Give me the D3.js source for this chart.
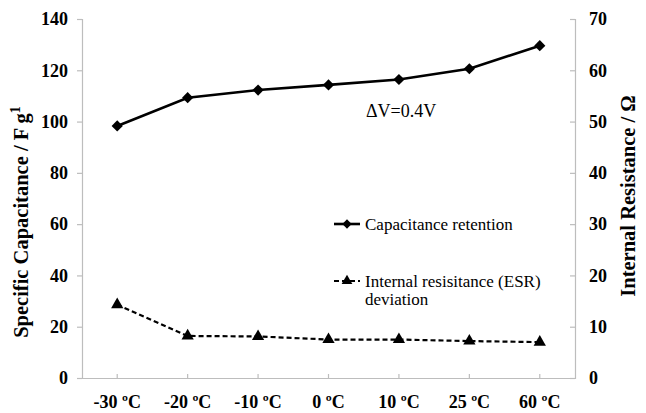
<!DOCTYPE html>
<html>
<head>
<meta charset="utf-8">
<script src="https://cdn.jsdelivr.net/npm/d3@7"></script>
<style>
  html, body { margin: 0; padding: 0; background: #fff; }
  svg { display: block; }
</style>
</head>
<body>
<svg id="chart" width="646" height="413"></svg>
<script>
// Temperatures on the x axis
const categories = ["-30 ºC", "-20 ºC", "-10 ºC", "0 ºC", "10 ºC", "25 ºC", "60 ºC"];
// Specific capacitance (F g-1), left axis
const capacitance = [98.3, 109.3, 112.3, 114.3, 116.4, 120.6, 129.6];
// Internal resistance (Ω), right axis
const esr = [14.3, 8.2, 8.1, 7.5, 7.5, 7.2, 7.0];
const leftTicks = [0, 20, 40, 60, 80, 100, 120, 140];
const rightTicks = [0, 10, 20, 30, 40, 50, 60, 70];

const FONT = "'Liberation Serif', 'Times New Roman', serif";
const svg = d3.select("#chart");
const m = { left: 82, right: 575, top: 19, bottom: 378 };
const axisColor = "#bdbdbd";

const x = d3.scaleBand().domain(categories).range([m.left, m.right]);
const xc = d => x(d) + x.bandwidth() / 2;
const yL = d3.scaleLinear().domain([0, 140]).range([m.bottom, m.top]);
const yR = d3.scaleLinear().domain([0, 70]).range([m.bottom, m.top]);

// Left axis
const gL = svg.append("g").attr("transform", `translate(${m.left},0)`)
  .call(d3.axisLeft(yL).tickValues(leftTicks).tickSize(5).tickPadding(9));
// Right axis (ticks point inward)
const gR = svg.append("g").attr("transform", `translate(${m.right},0)`)
  .call(d3.axisRight(yR).tickValues(rightTicks).tickSize(-5).tickPadding(14));
// Bottom axis (ticks point inward)
const gB = svg.append("g").attr("transform", `translate(0,${m.bottom})`)
  .call(d3.axisBottom(x).tickSize(-4).tickPadding(12).tickSizeOuter(0));

[gL, gR, gB].forEach(g => {
  g.select(".domain").attr("stroke", axisColor).attr("stroke-width", 1.2);
  g.selectAll(".tick line").attr("stroke", axisColor).attr("stroke-width", 1.2);
  g.selectAll(".tick text")
    .style("font-family", FONT).style("font-weight", "bold")
    .style("font-size", "18px").attr("fill", "#000");
});
gB.selectAll(".tick text").attr("dy", "1.0em");

// Axis titles
svg.append("text")
  .attr("transform", `translate(28,222) rotate(-90)`)
  .attr("text-anchor", "middle")
  .style("font-family", FONT).style("font-weight", "bold").style("font-size", "20.5px")
  .text("Specific Capacitance / F g")
  .append("tspan").attr("dy", -8).style("font-size", "14px").text("1");

svg.append("text")
  .attr("transform", `translate(635,196) rotate(-90)`)
  .attr("text-anchor", "middle")
  .style("font-family", FONT).style("font-weight", "bold").style("font-size", "20.5px")
  .text("Internal Resistance / Ω");

// Capacitance line
svg.append("path").datum(capacitance)
  .attr("fill", "none").attr("stroke", "#000").attr("stroke-width", 2.6)
  .attr("d", d3.line().x((d, i) => xc(categories[i])).y(d => yL(d)));
svg.selectAll(".dia").data(capacitance).join("path")
  .attr("transform", (d, i) => `translate(${xc(categories[i])},${yL(d)})`)
  .attr("d", d3.symbol(d3.symbolDiamond2, 80)).attr("fill", "#000");

// ESR line
svg.append("path").datum(esr)
  .attr("fill", "none").attr("stroke", "#000").attr("stroke-width", 2.2)
  .attr("stroke-dasharray", "5,3")
  .attr("d", d3.line().x((d, i) => xc(categories[i])).y(d => yR(d)));
svg.selectAll(".tri").data(esr).join("path")
  .attr("transform", (d, i) => `translate(${xc(categories[i])},${yR(d)})`)
  .attr("d", d3.symbol(d3.symbolTriangle, 65)).attr("fill", "#000");

// Annotation
svg.append("text").attr("x", 366).attr("y", 117)
  .style("font-family", FONT).style("font-size", "18px").text("ΔV=0.4V");

// Legend
const lg = svg.append("g").style("font-family", FONT).style("font-size", "17px");
lg.append("line").attr("x1", 334).attr("x2", 360).attr("y1", 224).attr("y2", 224)
  .attr("stroke", "#000").attr("stroke-width", 2.6);
lg.append("path").attr("transform", "translate(347,224)")
  .attr("d", d3.symbol(d3.symbolDiamond2, 55)).attr("fill", "#000");
lg.append("text").attr("x", 365).attr("y", 230).text("Capacitance retention");

lg.append("line").attr("x1", 334).attr("x2", 360).attr("y1", 281).attr("y2", 281)
  .attr("stroke", "#000").attr("stroke-width", 2.2).attr("stroke-dasharray", "5,3");
lg.append("path").attr("transform", "translate(347,281)")
  .attr("d", d3.symbol(d3.symbolTriangle, 50)).attr("fill", "#000");
lg.append("text").attr("x", 365).attr("y", 287).text("Internal resisitance (ESR)");
lg.append("text").attr("x", 365).attr("y", 305).text("deviation");
</script>
</body>
</html>
